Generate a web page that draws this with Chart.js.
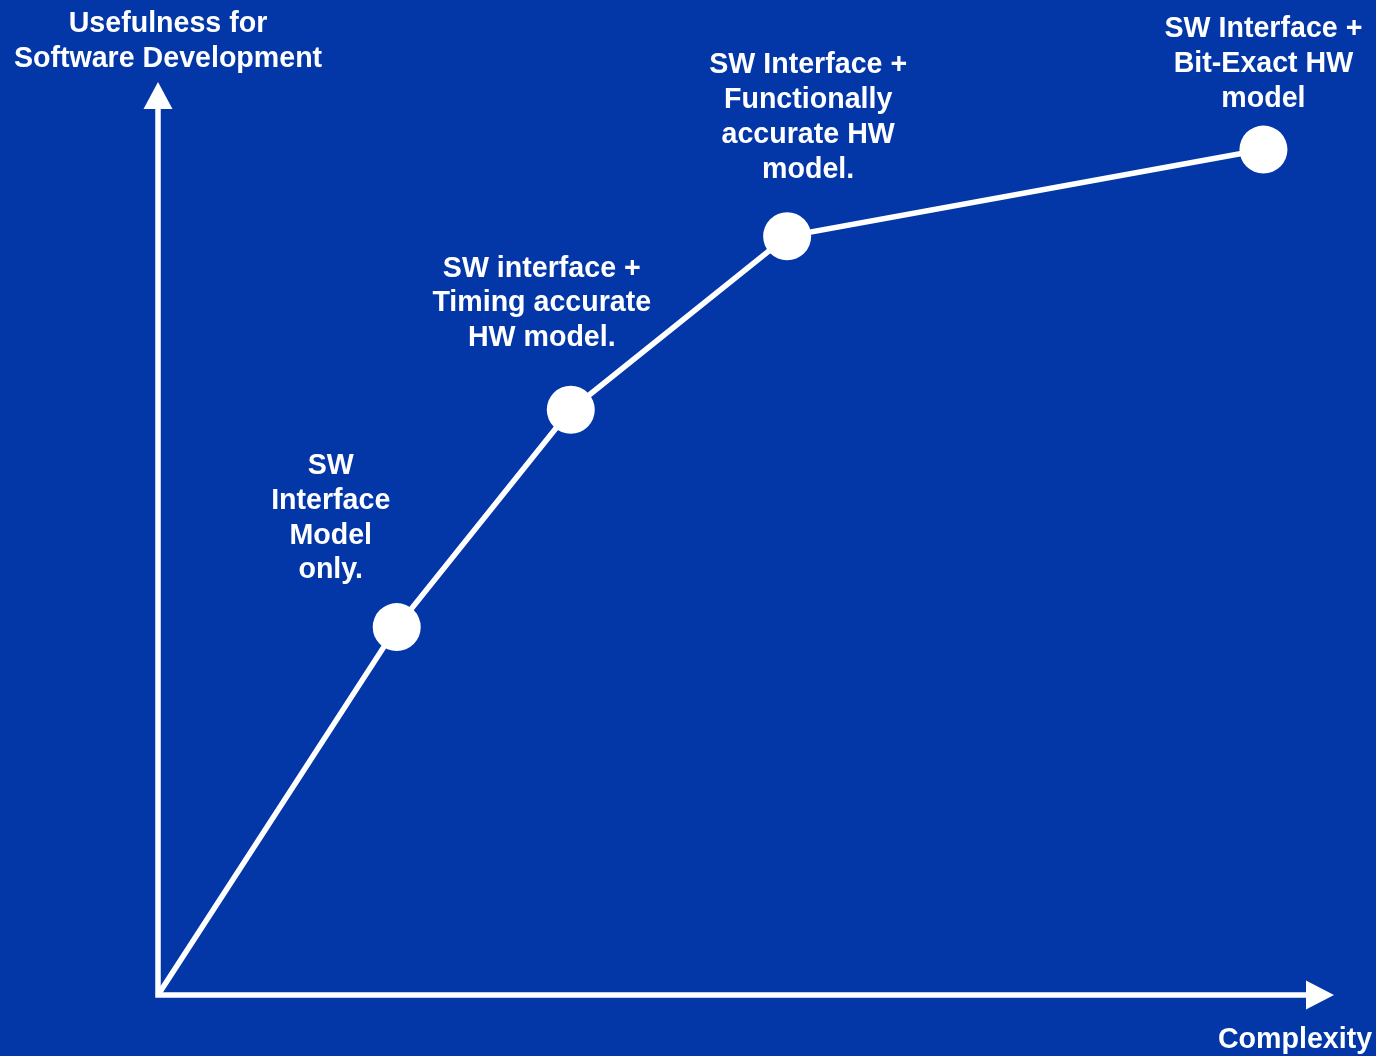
<!DOCTYPE html>
<html>
<head>
<meta charset="utf-8">
<script src="https://cdn.jsdelivr.net/npm/chart.js@4.4.1/dist/chart.umd.min.js"></script>
<style>
  html, body { margin: 0; padding: 0; background: #0337a8; }
  #wrap { width: 1376px; height: 1056px; }
</style>
</head>
<body>
<div id="wrap"><canvas id="modelChart"></canvas></div>
<script>
// data
const stages = [
    ['SW', 'Interface', 'Model', 'only.'],
    ['SW interface +', 'Timing accurate', 'HW model.'],
    ['SW Interface +', 'Functionally', 'accurate HW', 'model.'],
    ['SW Interface +', 'Bit-Exact HW', 'model']
];
const complexity = [0, 20.3, 35.1, 53.5, 94.0];
const usefulness = [0, 40.3, 64.1, 83.1, 92.6];
const yTitle = ['Usefulness for', 'Software Development'];
const xTitle = 'Complexity';

// label placement (pixels from each point) - style only
const labelOffsets = [
    { dx: -66, dy: -161 },
    { dx: -29, dy: -141 },
    { dx: 21, dy: -171 },
    { dx: 0, dy: -120 }
];

const FONT = 'bold 28.6px "Liberation Sans", Arial, sans-serif';
const LINE_H = 34.8;

function drawLines(ctx, lines, cx, top) {
    lines.forEach(function (t, i) {
        ctx.fillText(t, cx, top + i * LINE_H);
    });
}

const diagramPlugin = {
    id: 'diagram',
    beforeDatasetsDraw: function (chart) {
        const ctx = chart.ctx;
        const x = chart.scales.x, y = chart.scales.y;
        const ox = x.getPixelForValue(0), oy = y.getPixelForValue(0);
        const top = chart.chartArea.top, right = chart.chartArea.right;
        ctx.save();
        ctx.strokeStyle = '#fff';
        ctx.fillStyle = '#fff';
        ctx.lineWidth = 5.5;
        ctx.beginPath();
        ctx.moveTo(ox, oy + 2.75);
        ctx.lineTo(ox, top + 24);
        ctx.moveTo(ox - 2.75, oy);
        ctx.lineTo(right - 26, oy);
        ctx.stroke();
        // arrow heads
        ctx.beginPath();
        ctx.moveTo(ox, top);
        ctx.lineTo(ox + 14.5, top + 27);
        ctx.lineTo(ox - 14.5, top + 27);
        ctx.closePath();
        ctx.fill();
        ctx.beginPath();
        ctx.moveTo(right, oy);
        ctx.lineTo(right - 28, oy + 14.5);
        ctx.lineTo(right - 28, oy - 14.5);
        ctx.closePath();
        ctx.fill();
        ctx.restore();
    },
    afterDatasetsDraw: function (chart) {
        const ctx = chart.ctx;
        const meta = chart.getDatasetMeta(0);
        ctx.save();
        ctx.fillStyle = '#fff';
        ctx.font = FONT;
        ctx.textAlign = 'center';
        ctx.textBaseline = 'middle';
        stages.forEach(function (lines, i) {
            const p = meta.data[i + 1];
            const off = labelOffsets[i];
            drawLines(ctx, lines, p.x + off.dx, p.y + off.dy);
        });
        drawLines(ctx, yTitle, 168, 24);
        ctx.fillText(xTitle, 1295, 1040);
        ctx.restore();
    }
};

const chartCanvas = document.getElementById('modelChart');
let chart = new Chart(chartCanvas, {
    type: 'line',
    data: {
        labels: complexity,
        datasets: [{
            data: complexity.map(function (c, i) { return { x: c, y: usefulness[i] }; }),
            borderColor: '#fff',
            borderWidth: 5.5,
            backgroundColor: '#fff',
            pointBackgroundColor: '#fff',
            pointBorderWidth: 0,
            pointRadius: [0, 24, 24, 24, 24],
            pointHoverRadius: [0, 24, 24, 24, 24],
            tension: 0,
            clip: false
        }]
    },
    options: {
        responsive: true,
        maintainAspectRatio: false,
        animation: false,
        layout: { padding: { left: 158, right: 42, top: 82, bottom: 61 } },
        plugins: { legend: { display: false }, tooltip: { enabled: false } },
        scales: {
            x: { type: 'linear', min: 0, max: 100, display: false },
            y: { type: 'linear', min: 0, max: 100, display: false }
        }
    },
    plugins: [diagramPlugin]
});
</script>
</body>
</html>
